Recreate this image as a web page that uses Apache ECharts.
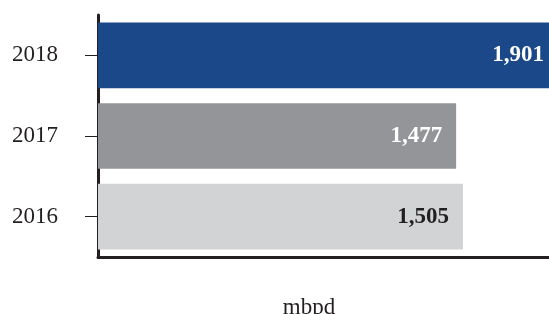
<!DOCTYPE html>
<html>
<head>
<meta charset="utf-8">
<script src="https://cdn.jsdelivr.net/npm/echarts@6/dist/echarts.min.js"></script>
<style>
  html, body { margin: 0; padding: 0; background: #fff; }
  #chart { width: 549px; height: 314px; }
</style>
</head>
<body>
<div id="chart"></div>
<script>
// categories bottom to top
const years = ['2016', '2017', '2018'];
const values = [1505, 1477, 1901];
const barColors = ['#d1d3d4', '#939598', '#1b4889'];
const labelColors = ['#231f20', '#ffffff', '#ffffff'];
const unitName = 'mbpd';

const chart = echarts.init(document.getElementById('chart'));
const font = "'Liberation Serif', 'Times New Roman', Times, serif";

const option = {
  animation: false,
  grid: { left: 98, right: 0, top: 15, bottom: 57, outerBoundsMode: 'none', containLabel: false },
  xAxis: {
    type: 'value',
    min: 0,
    max: 1860,
    name: unitName,
    nameLocation: 'middle',
    nameGap: 39,
    nameTextStyle: { fontFamily: font, fontSize: 23, color: '#231f20', padding: [0, 29, 0, 0] },
    axisLine: { show: true, lineStyle: { color: '#231f20', width: 3 } },
    axisTick: { show: false },
    axisLabel: { show: false },
    splitLine: { show: false }
  },
  yAxis: {
    type: 'category',
    data: years,
    axisLine: { show: true, lineStyle: { color: '#231f20', width: 3 } },
    axisTick: { show: true, alignWithLabel: true, length: 13, lineStyle: { color: '#231f20', width: 1 } },
    axisLabel: { margin: 40, fontFamily: font, fontSize: 23, color: '#231f20' }
  },
  series: [{
    type: 'bar',
    barCategoryGap: '18.5%',
    clip: true,
    data: values.map((v, i) => ({
      value: v,
      itemStyle: { color: barColors[i] },
      label: { color: labelColors[i], distance: v > 1860 ? 5 : 14 }
    })),
    label: {
      show: true,
      position: 'insideRight',
      fontFamily: font,
      fontWeight: 'bold',
      fontSize: 23,
      formatter: p => p.value.toLocaleString('en-US')
    }
  }]
};
chart.setOption(option);
</script>
</body>
</html>
